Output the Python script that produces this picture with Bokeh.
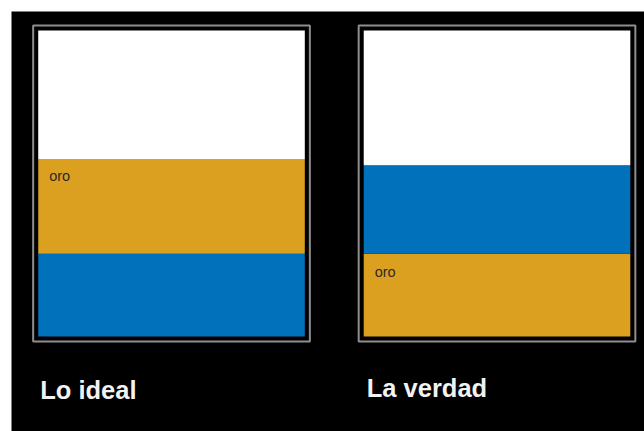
from bokeh.plotting import figure
from bokeh.models import ColumnDataSource, Label
from bokeh.embed import file_html
from bokeh.resources import INLINE

# ---- data (percent of each column) ----
panel_titles = ["Lo ideal", "La verdad"]
panel_x = [0, 1]
# bottom -> top segments
ideal_azul = 27
ideal_oro = 31
ideal_blanco = 42
verdad_oro = 27
verdad_azul = 29
verdad_blanco = 44
oro_label = "oro"

AZUL = "#0071BA"
ORO = "#DBA01F"
BLANCO = "#FFFFFF"
FRAME = "#8E8E8E"

BAR_W = 0.819
FRAME_W = 0.850
PAD = 1.634  # black gap between frame and column (data units)

p = figure(width=644, height=431, output_backend="svg", toolbar_location=None,
           x_axis_location=None, y_axis_location=None,
           x_range=(-0.4916, 1.4531), y_range=(-31.05, 106.21),
           min_border_left=11, min_border_top=11,
           min_border_right=0, min_border_bottom=0)
p.background_fill_color = "black"
p.border_fill_color = "white"
p.outline_line_color = None
p.grid.grid_line_color = None

stacks = [
    (["azul", "oro", "blanco"], [ideal_azul, ideal_oro, ideal_blanco], [AZUL, ORO, BLANCO]),
    (["oro", "azul", "blanco"], [verdad_oro, verdad_azul, verdad_blanco], [ORO, AZUL, BLANCO]),
]

for i, (names, vals, cols) in enumerate(stacks):
    data = {"x": [panel_x[i]]}
    for n, v in zip(names, vals):
        data[n] = [v]
    src = ColumnDataSource(data)
    p.vbar_stack(names, x="x", width=BAR_W, color=cols, line_color=None, source=src)
    total = sum(vals)
    # frame around the column
    p.vbar(x=[panel_x[i]], width=FRAME_W, bottom=-PAD, top=total + PAD,
           fill_color=None, line_color=FRAME, line_width=2)
    # 'oro' label near the top of its segment
    top = sum(vals[:names.index("oro") + 1])
    p.add_layout(Label(x=panel_x[i] - BAR_W / 2, y=top, x_offset=11,
                       y_offset=-17 if i == 0 else -18,
                       text=oro_label, text_font="Liberation Sans",
                       text_font_size="14.5px", text_color="#2a2a2a",
                       text_baseline="alphabetic"))
    # panel title under the frame
    p.add_layout(Label(x=panel_x[i] - FRAME_W / 2, y=-PAD,
                       x_offset=7 if i == 0 else 8,
                       y_offset=-49 if i == 0 else -47,
                       text=panel_titles[i], text_font="Liberation Sans",
                       text_font_style="bold", text_font_size="25.5px",
                       text_color="#F2F2F2", text_baseline="alphabetic"))

open("out.html", "w").write(file_html(p, INLINE))
